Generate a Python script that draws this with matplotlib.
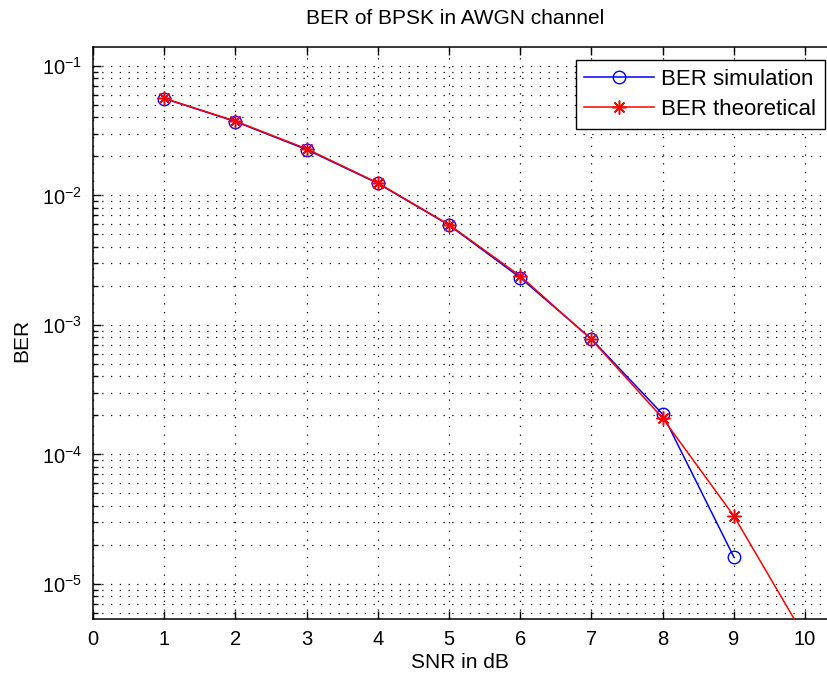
import numpy as np
import matplotlib
matplotlib.use('Agg')
import matplotlib.pyplot as plt
from matplotlib.ticker import LogLocator, FixedLocator

plt.rcParams['font.family'] = ['Liberation Sans', 'DejaVu Sans']
plt.rcParams['mathtext.default'] = 'regular'

# --- DATA ---
snr_db = [1, 2, 3, 4, 5, 6, 7, 8, 9, 10]
ber_sim = [0.0560, 0.0372, 0.0226, 0.0124, 0.00590, 0.00232, 0.000780, 0.000205, 0.0000162]
ber_theory = [0.0563, 0.0375, 0.0229, 0.0125, 0.00595, 0.00239, 0.000773, 0.000191, 0.0000336, 0.00000387]
x_ticks = [0, 1, 2, 3, 4, 5, 6, 7, 8, 9, 10]

W, H = 827, 678
fig = plt.figure(figsize=(W / 100, H / 100), dpi=100)
ax = fig.add_axes([93 / W, 1 - 619 / H, (W - 93) / W, (619 - 47) / H])

ax.semilogy(snr_db[:len(ber_sim)], ber_sim, color='#0000ff', marker='o', markersize=9,
            markerfacecolor='none', markeredgecolor='#0000ff', linewidth=1.1,
            label='BER simulation', zorder=3)
# MATLAB-style asterisk marker: 8 spokes
ax.semilogy(snr_db, ber_theory, color='#ff0000', marker=(8, 2, 0), markersize=10,
            markeredgewidth=1.1, linewidth=1.1, label='BER theoretical', zorder=4)

ax.set_xlim(0, 10.31)
ax.set_ylim(5.36e-6, 0.140)
ax.xaxis.set_major_locator(FixedLocator(x_ticks))
ax.yaxis.set_major_locator(LogLocator(base=10, numticks=10))
ax.yaxis.set_minor_locator(LogLocator(base=10, subs=np.arange(2, 10), numticks=20))
ax.yaxis.set_minor_formatter(plt.NullFormatter())

dots = (0, (1, 6))
ax.grid(True, which='major', linestyle=dots, color='black', linewidth=0.9)
ax.grid(True, which='minor', axis='y', linestyle=dots, color='black', linewidth=0.9)

ax.tick_params(which='both', direction='in', top=True, right=False, labelsize=14.5, pad=8)
ax.tick_params(which='major', length=6, width=1)
ax.tick_params(which='minor', length=3.5, width=1)
ax.spines['right'].set_visible(False)
for s in ['left', 'top', 'bottom']:
    ax.spines[s].set_linewidth(1.1)

fig.text(455 / W, 1 - 18 / H, 'BER of BPSK in AWGN channel',
         ha='center', va='center', fontsize=15)
fig.text(460 / W, 1 - 663 / H, 'SNR in dB', ha='center', va='center', fontsize=15)
fig.text(22 / W, 1 - 340 / H, 'BER', ha='center', va='center', rotation=90, fontsize=15)

leg = ax.legend(loc='upper right', bbox_to_anchor=(825 / W, 1 - 60 / H),
                bbox_transform=fig.transFigure, borderaxespad=0, fancybox=False,
                edgecolor='black', framealpha=1, fontsize=16, handlelength=3.15,
                handletextpad=0.3, borderpad=0.4, labelspacing=0.42)
leg.get_frame().set_linewidth(1.0)

fig.savefig('out.png', dpi=100)
